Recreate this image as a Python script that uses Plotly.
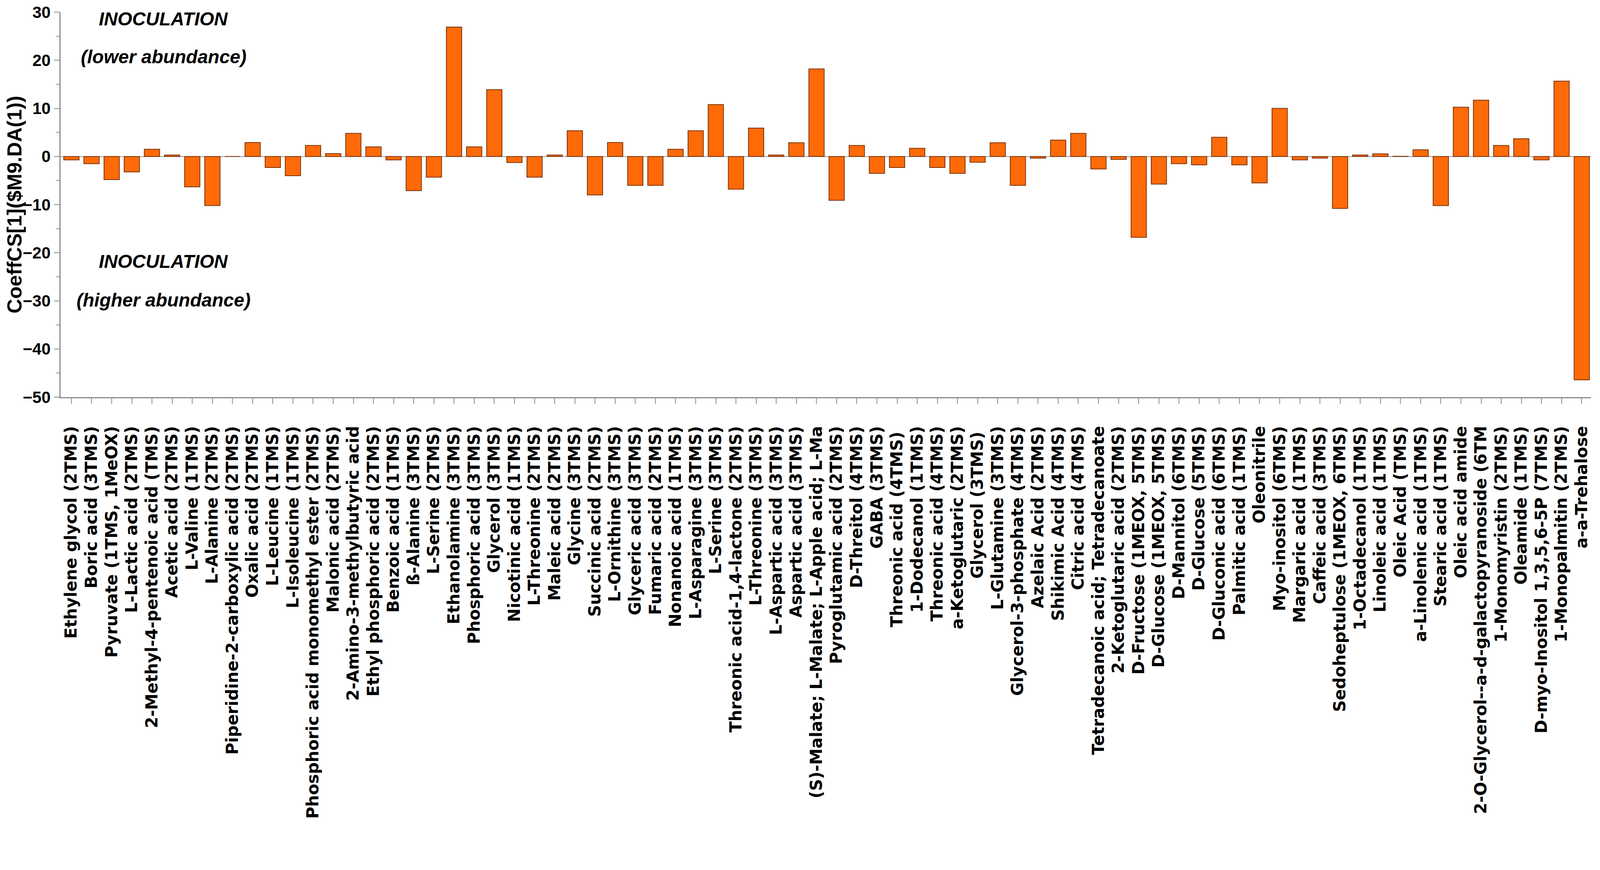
import plotly.graph_objects as go

# metabolitos (ordem do eixo x)
metabolitos = [
    "Ethylene glycol (2TMS)", "Boric acid (3TMS)", "Pyruvate (1TMS, 1MeOX)",
    "L-Lactic acid (2TMS)", "2-Methyl-4-pentenoic acid (TMS)", "Acetic acid (2TMS)",
    "L-Valine (1TMS)", "L-Alanine (2TMS)", "Piperidine-2-carboxylic acid (2TMS)",
    "Oxalic acid (2TMS)", "L-Leucine (1TMS)", "L-Isoleucine (1TMS)",
    "Phosphoric acid monomethyl ester (2TMS)", "Malonic acid (2TMS)",
    "2-Amino-3-methylbutyric acid", "Ethyl phosphoric acid (2TMS)", "Benzoic acid (1TMS)",
    "ß-Alanine (3TMS)", "L-Serine (2TMS)", "Ethanolamine (3TMS)", "Phosphoric acid (3TMS)",
    "Glycerol (3TMS)", "Nicotinic acid (1TMS)", "L-Threonine (2TMS)", "Maleic acid (2TMS)",
    "Glycine (3TMS)", "Succinic acid (2TMS)", "L-Ornithine (3TMS)", "Glyceric acid (3TMS)",
    "Fumaric acid (2TMS)", "Nonanoic acid (1TMS)", "L-Asparagine (3TMS)", "L-Serine (3TMS)",
    "Threonic acid-1,4-lactone (2TMS)", "L-Threonine (3TMS)", "L-Aspartic acid (3TMS)",
    "Aspartic acid (3TMS)", "(S)-Malate; L-Malate; L-Apple acid; L-Ma",
    "Pyroglutamic acid (2TMS)", "D-Threitol (4TMS)", "GABA (3TMS)", "Threonic acid (4TMS) ",
    "1-Dodecanol (1TMS)", "Threonic acid (4TMS)", "a-Ketoglutaric (2TMS)", "Glycerol (3TMS) ",
    "L-Glutamine (3TMS)", "Glycerol-3-phosphate (4TMS)", "Azelaic Acid (2TMS)",
    "Shikimic Acid (4TMS)", "Citric acid (4TMS)", "Tetradecanoic acid; Tetradecanoate",
    "2-Ketoglutaric acid (2TMS)", "D-Fructose (1MEOX, 5TMS)", "D-Glucose (1MEOX, 5TMS)",
    "D-Mannitol (6TMS)", "D-Glucose (5TMS)", "D-Gluconic acid (6TMS)", "Palmitic acid (1TMS)",
    "Oleonitrile", "Myo-inositol (6TMS)", "Margaric acid (1TMS)", "Caffeic acid (3TMS)",
    "Sedoheptulose (1MEOX, 6TMS)", "1-Octadecanol (1TMS)", "Linoleic acid (1TMS)",
    "Oleic Acid (TMS)", "a-Linolenic acid (1TMS)", "Stearic acid (1TMS)", "Oleic acid amide",
    "2-O-Glycerol--a-d-galactopyranoside (6TM", "1-Monomyristin (2TMS)", "Oleamide (1TMS)",
    "D-myo-Inositol 1,3,5,6-5P (7TMS)", "1-Monopalmitin (2TMS)", "a-a-Trehalose",
]

coef = [
    -0.7, -1.5, -4.8, -3.2, 1.5, 0.3, -6.3, -10.2, 0.0, 2.9,
    -2.3, -4.0, 2.3, 0.6, 4.8, 2.0, -0.7, -7.1, -4.3, 26.9,
    2.0, 13.9, -1.25, -4.3, 0.3, 5.35, -8.0, 2.9, -6.0, -6.0,
    1.5, 5.35, 10.8, -6.8, 5.9, 0.3, 2.85, 18.2, -9.1, 2.3,
    -3.5, -2.3, 1.7, -2.3, -3.5, -1.2, 2.85, -6.0, -0.35, 3.4,
    4.8, -2.6, -0.6, -16.8, -5.75, -1.5, -1.75, 4.0, -1.75, -5.5,
    10.0, -0.7, -0.35, -10.8, 0.3, 0.55, 0.05, 1.4, -10.2, 10.25,
    11.7, 2.3, 3.7, -0.7, 15.65, -46.4,
]

yticks = [-50, -40, -30, -20, -10, 0, 10, 20, 30]

fonte = "Arial, Liberation Sans, sans-serif"
cinza = "#8c8c8c"

fig = go.Figure()
fig.add_trace(go.Bar(x=metabolitos, y=coef,
                     marker=dict(color="#ff6a08", line=dict(color="#7a3208", width=2)),
                     showlegend=False))

# a janela do navegador so mostra 4096 px de largura
fig.update_layout(
    width=4080, height=2212,
    margin=dict(l=147, r=15, t=23, b=1203, autoexpand=False),
    paper_bgcolor="white", plot_bgcolor="white",
    bargap=0.24,
    font=dict(family=fonte, color="black"),
)

fig.update_xaxes(
    type="category", range=[-0.54, 75.46],
    tickmode="linear", tick0=0, dtick=1,  # todos os rotulos
    showline=True, linecolor=cinza, linewidth=3,
    ticks="outside", ticklen=14, tickwidth=2, tickcolor=cinza,
    tickangle=-90, ticklabelstandoff=40,
    tickfont=dict(family="DejaVu Sans", size=42, weight="bold", color="black"),
    showgrid=False, automargin=False,
)

fig.update_yaxes(
    range=[-50, 30], tickvals=yticks, ticklabeloverflow="allow",
    showline=True, linecolor=cinza, linewidth=3,
    ticks="outside", ticklen=14, tickwidth=2, tickcolor=cinza,
    minor=dict(dtick=5, ticks="outside", ticklen=8, tickwidth=2, tickcolor=cinza),
    tickfont=dict(family=fonte, size=42, weight="bold"),
    showgrid=False, zeroline=True, zerolinecolor="#9a9a9a", zerolinewidth=2,
    title=dict(text="CoeffCS[1]($M9.DA(1))", standoff=10,
               font=dict(family=fonte, size=52, weight="bold")),
    automargin=False,
)

# textos dentro do grafico
textos = [("INOCULATION", 28.6), ("(lower abundance)", 20.7),
          ("INOCULATION", -21.8), ("(higher abundance)", -29.8)]
for txt, yy in textos:
    fig.add_annotation(x=0.0673, xref="paper", xanchor="center", y=yy, yref="y",
                       text=txt, showarrow=False,
                       font=dict(family=fonte, size=48, weight="bold", style="italic"))

fig.write_html("out.html")
